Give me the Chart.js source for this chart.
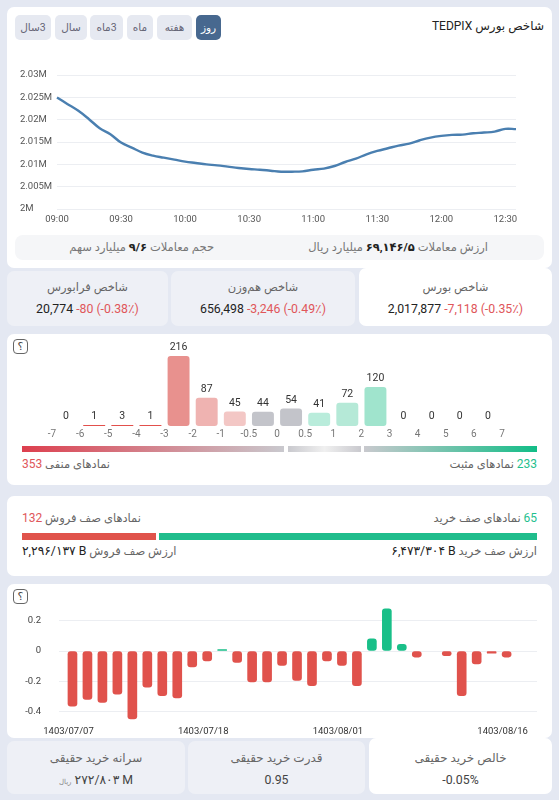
<!DOCTYPE html>
<html lang="fa"><head><meta charset="utf-8">
<script src="https://cdn.jsdelivr.net/npm/chart.js@4"></script>
<style>
html,body{margin:0;padding:0;width:559px;height:800px;overflow:hidden;background:#e4e8f2;font-family:Roboto,"DejaVu Sans",sans-serif;color:#222}
.a{position:absolute;white-space:nowrap}
.card{position:absolute;background:#fff;border-radius:7px}
.grey{background:#eef0f6}
.t{position:absolute;white-space:nowrap;direction:rtl}
.btn{position:absolute;top:15px;height:25px;line-height:25px;border-radius:5px;background:#e6e9f1;color:#667;font-size:10.5px;text-align:center;direction:rtl}
canvas{position:absolute;left:0}
.lb{font-size:11.5px;color:#666}
.val{font-size:12.3px;color:#222}
.red{color:#e0565a}.grn{color:#1fbf8e}
.num{direction:ltr;unicode-bidi:isolate;display:inline-block}
.help{position:absolute;left:13px;width:13px;height:13px;border:1.4px solid #666;border-radius:4px;font-size:11px;line-height:13px;text-align:center;color:#444}
</style></head><body>
<div class="card" style="left:7px;top:7px;width:545px;height:261px"></div>
<div class="card grey" style="left:7px;top:271px;width:161px;height:55px"></div>
<div class="card grey" style="left:171px;top:271px;width:184px;height:55px"></div>
<div class="card" style="left:359px;top:268px;width:193px;height:58px"></div>
<div class="t" style="right:15px;top:19px;font-size:12px;color:#222">شاخص بورس TEDPIX</div>
<div class="btn" style="left:196px;width:25px;background:#47688f;color:#fff">روز</div>
<div class="btn" style="left:157px;width:35px">هفته</div>
<div class="btn" style="left:127px;width:26px">ماه</div>
<div class="btn" style="left:90px;width:33px">3ماه</div>
<div class="btn" style="left:55px;width:32px">سال</div>
<div class="btn" style="left:15px;width:36px">3سال</div>
<canvas id="c1"></canvas>
<div class="a" style="left:15px;top:235px;width:529px;height:25px;background:#f5f6f8;border-radius:8px"></div>
<div class="t lb" style="right:71px;top:240px;color:#777">ارزش معاملات <b style="color:#222">۶۹,۱۴۶/۵</b> میلیارد ریال</div>
<div class="t lb" style="right:345px;top:240px;color:#777">حجم معاملات <b style="color:#222">۹/۶</b> میلیارد سهم</div>
<div class="t lb" style="left:359px;width:193px;text-align:center;top:280px">شاخص بورس</div>
<div class="a val" style="left:359px;width:193px;text-align:center;top:302px">2,017,877 <span class="red">-7,118 (-0.35٪)</span></div>
<div class="t lb" style="left:171px;width:184px;text-align:center;top:280px">شاخص هم‌وزن</div>
<div class="a val" style="left:171px;width:184px;text-align:center;top:302px">656,498 <span class="red">-3,246 (-0.49٪)</span></div>
<div class="t lb" style="left:7px;width:161px;text-align:center;top:280px">شاخص فرابورس</div>
<div class="a val" style="left:7px;width:161px;text-align:center;top:302px">20,774 <span class="red">-80 (-0.38٪)</span></div>

<div class="card" style="left:7px;top:334px;width:545px;height:151px"></div>
<div class="help" style="top:339px">؟</div>
<canvas id="c2"></canvas>
<div class="a" style="left:22px;top:446px;width:262px;height:6px;background:linear-gradient(90deg,#dd3f4e,#c9c9ce)"></div>
<div class="a" style="left:288px;top:446px;width:73px;height:6px;background:linear-gradient(90deg,#c9c9ce,#f0f0f0,#c9c9ce)"></div>
<div class="a" style="left:364px;top:446px;width:173px;height:6px;background:linear-gradient(90deg,#c9c9ce,#12bd87)"></div>
<div class="t lb" style="right:22px;top:457px"><span class="grn" style="font-size:12px">233</span> نمادهای مثبت</div>
<div class="t lb" style="left:22px;top:457px">نمادهای منفی <span class="red" style="font-size:12px">353</span></div>

<div class="card" style="left:7px;top:496px;width:545px;height:80px"></div>
<div class="t lb" style="right:22px;top:511px"><span class="grn" style="font-size:12px">65</span> نمادهای صف خرید</div>
<div class="t lb" style="left:22px;top:511px">نمادهای صف فروش <span class="red" style="font-size:12px">132</span></div>
<div class="a" style="left:22px;top:533px;width:134px;height:7px;background:#e0534b"></div>
<div class="a" style="left:159px;top:533px;width:378px;height:7px;background:#20bd8c"></div>
<div class="t lb" style="right:22px;top:544px">ارزش صف خرید <span class="val num">۶,۴۷۳/۳۰۴ B</span></div>
<div class="t lb" style="left:22px;top:544px">ارزش صف فروش <span class="val num">۲,۲۹۶/۱۳۷ B</span></div>

<div class="card" style="left:7px;top:584px;width:545px;height:154px"></div>
<div class="help" style="top:589px">؟</div>
<canvas id="c3"></canvas>
<div class="card grey" style="left:7px;top:741px;width:178px;height:53px"></div>
<div class="card grey" style="left:188px;top:741px;width:177px;height:53px"></div>
<div class="card" style="left:369px;top:738px;width:183px;height:56px"></div>
<div class="t lb" style="left:369px;width:183px;text-align:center;top:751px;font-size:12px">خالص خرید حقیقی</div>
<div class="a val" style="left:369px;width:183px;text-align:center;top:773px;color:#444">-0.05%</div>
<div class="t lb" style="left:188px;width:177px;text-align:center;top:751px;font-size:12px">قدرت خرید حقیقی</div>
<div class="a val" style="left:188px;width:177px;text-align:center;top:773px;color:#444">0.95</div>
<div class="t lb" style="left:7px;width:178px;text-align:center;top:751px;font-size:12px">سرانه خرید حقیقی</div>
<div class="t val" style="left:7px;width:178px;text-align:center;top:773px;color:#444"><span class="num">۲۷۲/۸۰۳ M</span> <span style="font-size:7px;color:#888">ریال</span></div>

<script>
const times=['09:00','09:05','09:10','09:15','09:20','09:25','09:30','09:35','09:40','09:45','09:50','09:55','10:00','10:05','10:10','10:15','10:20','10:25','10:30','10:35','10:40','10:45','10:50','10:55','11:00','11:05','11:10','11:15','11:20','11:25','11:30','11:35','11:40','11:45','11:50','11:55','12:00','12:05','12:10','12:15','12:20','12:25','12:30','12:35'];
const indexValues=[2024970,2023473,2021976,2020105,2018084,2016737,2014865,2013743,2012620,2011946,2011497,2011048,2010599,2010299,2010000,2009775,2009476,2009177,2008952,2008802,2008578,2008353,2008353,2008428,2008802,2009027,2009626,2010524,2011272,2012246,2012994,2013593,2014192,2014641,2015389,2015988,2016362,2016587,2016662,2016961,2017111,2017336,2017934,2017877];
const binEdges=['-7','-6','-5','-4','-3','-2','-1','-0.5','0','0.5','1','2','3','4','5','6','7'];
const binLabels=['-7..-6','-6..-5','-5..-4','-4..-3','-3..-2','-2..-1','-1..-0.5','-0.5..0','0..0.5','0.5..1','1..2','2..3','3..4','4..5','5..6','6..7'];
const binCounts=[0,1,3,1,216,87,45,44,54,41,72,120,0,0,0,0];
const binColors=['transparent','#e2504c','#e2504c','#e2504c','#e8918e','#efb3b1','#f3c7c5','#c3c4ca','#c3c4ca','#b9ecdb','#b5e9d7','#a0e4cd','transparent','transparent','transparent','transparent'];
const netBuy=[-0.365,-0.32,-0.34,-0.285,-0.45,-0.24,-0.295,-0.31,-0.105,-0.065,0.01,-0.075,-0.205,-0.205,-0.095,-0.195,-0.23,-0.065,-0.095,-0.23,0.08,0.28,0.045,-0.04,0,-0.03,-0.295,-0.085,-0.015,-0.04];
const dateTickIdx=[0,9,18,29];
const dateTickLabels=['1403/07/07','1403/07/18','1403/08/01','1403/08/16'];

const F='Roboto,"DejaVu Sans",sans-serif';
Chart.defaults.animation=false;
Chart.defaults.font.family=F;
Chart.defaults.plugins.legend.display=false;
Chart.defaults.plugins.tooltip.enabled=false;
function place(id,top,h){const c=document.getElementById(id);c.width=559;c.height=h;c.style.top=top+'px';c.style.width='559px';c.style.height=h+'px';return c}
const base={responsive:false,maintainAspectRatio:false,devicePixelRatio:1};
// fixed axis box with no label overhang, so the plot area lands where the reference has it
const fixH=h=>s=>{s.height=h;s.paddingLeft=s.paddingRight=s.paddingTop=s.paddingBottom=0};
const fixW=w=>s=>{s.width=w;s.paddingLeft=s.paddingRight=s.paddingTop=s.paddingBottom=0};

new Chart(place('c1',62,168),{type:'line',
 data:{labels:times,datasets:[{data:indexValues,borderColor:'#4a7fb0',borderWidth:2.4,pointRadius:0,tension:0.4,fill:false}]},
 options:{...base,layout:{padding:{left:20,right:43,top:13,bottom:0}},scales:{
  x:{grid:{display:false,drawTicks:false},border:{display:false},afterFit:fixH(21),
     ticks:{autoSkip:false,maxRotation:0,padding:5,color:'#555',font:{size:9.5},callback(v,i){return i%6===0?this.getLabelForValue(v):''}}},
  y:{min:2000000,max:2030000,grid:{color:'#eceef2',drawTicks:false},border:{display:false},afterFit:fixW(37),
     ticks:{stepSize:5000,crossAlign:'far',padding:0,color:'#555',font:{size:9.5},callback:v=>(v/1e6)+'M'}}
 }}});

const valueLabels={id:'valueLabels',afterDatasetsDraw(ch){const g=ch.ctx;g.save();g.fillStyle='#333';g.font='10.5px '+F;g.textAlign='center';g.textBaseline='bottom';
 ch.getDatasetMeta(0).data.forEach((b,i)=>{g.fillText(String(binCounts[i]),b.x,b.y-3)});g.restore()}};
new Chart(place('c2',340,106),{type:'bar',plugins:[valueLabels],
 data:{labels:binLabels,datasets:[{data:binCounts,backgroundColor:binColors,borderRadius:c=>binCounts[c.dataIndex]<10?0:3,borderSkipped:false,barPercentage:0.78,categoryPercentage:1,minBarLength:1}]},
 options:{...base,layout:{padding:{left:52,right:57,top:16,bottom:0}},scales:{
  x:{display:false,offset:true,grid:{display:false}},
  y:{display:false,min:0,max:216},
  x2:{type:'category',position:'bottom',labels:binEdges,offset:false,grid:{display:false,drawTicks:false},border:{display:false},afterFit:fixH(20),
      ticks:{autoSkip:false,maxRotation:0,padding:2,color:'#777',font:{size:10}}}
 }}});

new Chart(place('c3',591,146),{type:'bar',
 data:{datasets:[{data:netBuy.map((v,i)=>({x:i,y:v})),backgroundColor:netBuy.map(v=>v===0?'transparent':v>0?'#19bf88':'#e0524c'),borderRadius:3,borderSkipped:false,barThickness:9}]},
 options:{...base,layout:{padding:{left:0,right:22,top:14.7,bottom:0}},scales:{
  x:{type:'linear',offset:false,min:-0.9,max:31.03,grid:{display:false,drawTicks:false},border:{display:false},afterFit:fixH(16.5),
     afterBuildTicks:s=>{s.ticks=dateTickIdx.map(v=>({value:v}))},
     ticks:{autoSkip:false,maxRotation:0,padding:5,labelOffset:-4,color:'#333',font:{size:9.5},callback:v=>dateTickLabels[dateTickIdx.indexOf(v)]}},
  y:{min:-0.46,max:0.3,grid:{color:'#eceef2',drawTicks:false},border:{display:false},afterFit:fixW(59),
     afterBuildTicks:s=>{s.ticks=[-0.4,-0.2,0,0.2].map(v=>({value:v}))},
     ticks:{padding:18,color:'#444',font:{size:9.5},callback:v=>String(v)}}
 }}});
</script>
</body></html>
